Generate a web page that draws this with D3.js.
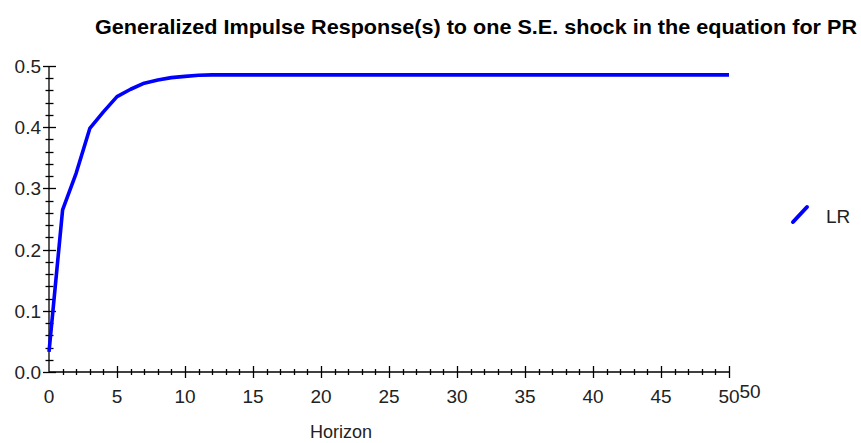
<!DOCTYPE html>
<html>
<head>
<meta charset="utf-8">
<script src="https://cdnjs.cloudflare.com/ajax/libs/d3/7.8.5/d3.min.js"></script>
<style>
  body { margin: 0; background: #fff; }
  svg text { font-family: "Liberation Sans", Arial, sans-serif; fill: #222; }
</style>
</head>
<body>
<svg id="chart" width="861" height="443"></svg>
<script>
// horizon 0..50
var horizon = d3.range(0, 51);
// response of LR
var lrValues = [0.033, 0.265, 0.325, 0.398, 0.425, 0.450, 0.462, 0.472, 0.477, 0.481, 0.483, 0.485,
  0.4855, 0.4855, 0.4855, 0.4855, 0.4855, 0.4855, 0.4855, 0.4855, 0.4855, 0.4855, 0.4855, 0.4855,
  0.4855, 0.4855, 0.4855, 0.4855, 0.4855, 0.4855, 0.4855, 0.4855, 0.4855, 0.4855, 0.4855, 0.4855,
  0.4855, 0.4855, 0.4855, 0.4855, 0.4855, 0.4855, 0.4855, 0.4855, 0.4855, 0.4855, 0.4855, 0.4855,
  0.4855, 0.4855, 0.4855];
var xTickLabels = [0, 5, 10, 15, 20, 25, 30, 35, 40, 45, 50];
var yTickLabels = ["0.0", "0.1", "0.2", "0.3", "0.4", "0.5"];
var seriesName = "LR";

var svg = d3.select("#chart");

var x = d3.scaleLinear().domain([0, 50]).range([49, 729]);
var y = d3.scaleLinear().domain([0, 0.5]).range([372, 66]);

// title (condensed look via textLength)
svg.append("text")
  .attr("x", 95).attr("y", 34)
  .attr("textLength", 762).attr("lengthAdjust", "spacingAndGlyphs")
  .style("font-family", "'Liberation Sans Narrow', 'Arial Narrow', 'Liberation Sans', sans-serif")
  .style("font-weight", "bold").style("font-size", "21px").style("fill", "#000")
  .text("Generalized Impulse Response(s) to one S.E. shock in the equation for PR");

var axes = svg.append("g").attr("stroke", "#000").attr("stroke-width", 1.3);

// axis lines
axes.append("line").attr("x1", x(0)).attr("x2", x(0)).attr("y1", y(0.5)).attr("y2", y(0));
axes.append("line").attr("x1", x(0)).attr("x2", x(50)).attr("y1", y(0)).attr("y2", y(0));

// y ticks: minor every 0.02, major every 0.1
axes.selectAll(".ytick")
  .data(d3.range(0, 26))
  .enter().append("line")
    .attr("x1", function(d) { return x(0) - (d % 5 === 0 ? 6 : 3.5); })
    .attr("x2", function(d) { return x(0) + (d % 5 === 0 ? 7 : 4.5); })
    .attr("y1", function(d) { return Math.round(y(d * 0.02)) + 0.5; })
    .attr("y2", function(d) { return Math.round(y(d * 0.02)) + 0.5; });

// x ticks: minor every 1, major every 5
axes.selectAll(".xtick")
  .data(horizon.slice(1))
  .enter().append("line")
    .attr("x1", function(d) { return Math.round(x(d)) + 0.5; })
    .attr("x2", function(d) { return Math.round(x(d)) + 0.5; })
    .attr("y1", function(d) { return y(0) - (d % 5 === 0 ? 6 : 3); })
    .attr("y2", function(d) { return y(0) + (d % 5 === 0 ? 6 : 3); });

svg.selectAll(".ylab")
  .data(yTickLabels)
  .enter().append("text")
    .attr("x", 41)
    .attr("y", function(d) { return y(+d) + 7; })
    .attr("text-anchor", "end")
    .style("font-size", "19px")
    .text(function(d) { return d; });

svg.selectAll(".xlab")
  .data(xTickLabels)
  .enter().append("text")
    .attr("x", function(d) { return x(d); })
    .attr("y", 403)
    .attr("text-anchor", "middle")
    .style("font-size", "19px")
    .text(function(d) { return d; });

// stray max label
svg.append("text")
  .attr("x", 750).attr("y", 398)
  .attr("text-anchor", "middle")
  .style("font-size", "19px")
  .text("50");

svg.append("text")
  .attr("x", 341).attr("y", 438)
  .attr("text-anchor", "middle")
  .style("font-size", "18px")
  .text("Horizon");

// series line
var line = d3.line()
  .x(function(d, i) { return x(horizon[i]); })
  .y(function(d) { return y(d); });

svg.append("path")
  .datum(lrValues)
  .attr("fill", "none")
  .attr("stroke", "#0000ff")
  .attr("stroke-width", 3.6)
  .attr("stroke-linejoin", "round")
  .attr("d", line);

// legend
svg.append("line")
  .attr("x1", 793).attr("y1", 222).attr("x2", 807).attr("y2", 207)
  .attr("stroke", "#0000ff").attr("stroke-width", 4).attr("stroke-linecap", "round");
svg.append("text")
  .attr("x", 826).attr("y", 223)
  .style("font-size", "19px")
  .text(seriesName);
</script>
</body>
</html>
